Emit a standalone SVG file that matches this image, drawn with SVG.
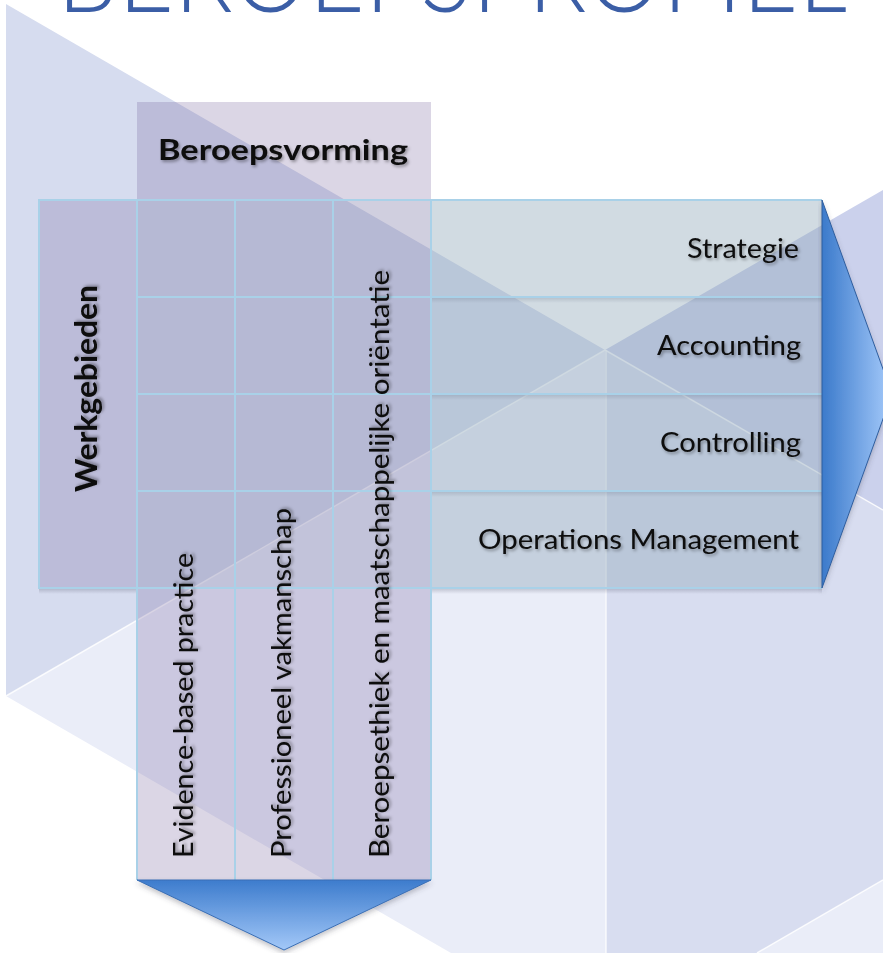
<svg xmlns="http://www.w3.org/2000/svg" width="883" height="953" viewBox="0 0 883 953">
<defs>
<linearGradient id="gR" x1="0" y1="0" x2="1" y2="0"><stop offset="0" stop-color="#3b7acb"/><stop offset="1" stop-color="#a6cbfb"/></linearGradient>
<linearGradient id="gD" x1="0" y1="0" x2="0" y2="1"><stop offset="0" stop-color="#3d7ccd"/><stop offset="1" stop-color="#a3c8f8"/></linearGradient>
<linearGradient id="gS" x1="0" y1="0" x2="0" y2="1"><stop offset="0" stop-color="#404058" stop-opacity="0.22"/><stop offset="1" stop-color="#404058" stop-opacity="0"/></linearGradient>
<filter id="ts" x="-10%" y="-40%" width="120%" height="180%"><feDropShadow dx="1.5" dy="2" stdDeviation="1.5" flood-color="#000" flood-opacity="0.35"/></filter>
<filter id="bs" x="-5%" y="-10%" width="110%" height="130%"><feDropShadow dx="0" dy="3" stdDeviation="2.5" flood-color="#404050" flood-opacity="0.3"/></filter>
<style>
.lbl{font-family:Lato,'Liberation Sans',sans-serif;font-size:27px;fill:#0a0a0a}
.hdr{font-family:Lato,'Liberation Sans',sans-serif;font-weight:700;fill:#0a0a0a}
.grid{stroke:#a9d1e8;stroke-width:2;fill:none}
.purple{fill:#73609a;fill-opacity:0.26}
.inner{fill:#91aab9;fill-opacity:0.15}
.row{fill:#91aab9;fill-opacity:0.42}
.sh{fill:url(#gS)}
.wl{stroke:#ffffff;stroke-width:1.5;stroke-opacity:0.8;fill:none}
</style>
</defs>
<g id="background">
<rect width="883" height="953" fill="#ffffff"/>
<polygon points="6,4 605,350 6,696" fill="#d6dcef"/>
<polygon points="6,696 605,350 606,953 451,953" fill="#eaedf8"/>
<polygon points="605,350 883,190 883,510" fill="#cbd1ec"/>
<polygon points="605,350 883,510 883,880 757,953 606,953" fill="#d8ddf0"/>
<polygon points="883,880 883,953 757,953" fill="#eaedf8"/>
<line class="wl" x1="6" y1="696" x2="605" y2="350"/>
<line class="wl" x1="606" y1="350" x2="606" y2="953"/>
<line class="wl" x1="605" y1="350" x2="883" y2="510"/>
<line class="wl" x1="883" y1="880" x2="757" y2="953"/>
</g>
<g id="title">
<text x="57" y="12" textLength="790" lengthAdjust="spacingAndGlyphs" style="font-family:Lato,'Liberation Sans',sans-serif;font-weight:300;font-size:110px;fill:#3b5ea6">BEROEPSPROFIEL</text>
</g>
<g id="werkgebieden">
<rect x="39" y="200" width="98" height="388" class="purple"/>
<rect x="39" y="589" width="98" height="5" class="sh"/>
<rect x="39" y="200" width="98" height="388" class="grid"/>
<text class="hdr" transform="translate(97,492) rotate(-90)" font-size="30" textLength="207" lengthAdjust="spacingAndGlyphs" filter="url(#ts)">Werkgebieden</text>
</g>
<g id="row-strategie">
<rect x="431" y="200" width="391" height="97" class="row"/>
<rect x="431" y="298" width="391" height="5" class="sh"/>
<path class="grid" d="M431,200H822M431,297H822"/>
<text class="lbl" x="799" y="258" text-anchor="end" textLength="112" lengthAdjust="spacingAndGlyphs" filter="url(#ts)">Strategie</text>
</g>
<g id="row-accounting">
<rect x="431" y="297" width="391" height="97" class="row"/>
<rect x="431" y="395" width="391" height="5" class="sh"/>
<path class="grid" d="M431,297H822M431,394H822"/>
<text class="lbl" x="801" y="355" text-anchor="end" textLength="144" lengthAdjust="spacingAndGlyphs" filter="url(#ts)">Accounting</text>
</g>
<g id="row-controlling">
<rect x="431" y="394" width="391" height="97" class="row"/>
<rect x="431" y="492" width="391" height="5" class="sh"/>
<path class="grid" d="M431,394H822M431,491H822"/>
<text class="lbl" x="801" y="452" text-anchor="end" textLength="141" lengthAdjust="spacingAndGlyphs" filter="url(#ts)">Controlling</text>
</g>
<g id="row-operations">
<rect x="431" y="491" width="391" height="97" class="row"/>
<rect x="431" y="589" width="391" height="5" class="sh"/>
<path class="grid" d="M431,491H822M431,588H822"/>
<text class="lbl" x="799" y="549" text-anchor="end" textLength="321" lengthAdjust="spacingAndGlyphs" filter="url(#ts)">Operations Management</text>
</g>
<g id="beroepsvorming">
<rect x="137" y="102" width="294" height="98" class="purple"/>
<text class="hdr" x="158" y="160" font-size="28" textLength="250" lengthAdjust="spacingAndGlyphs" filter="url(#ts)">Beroepsvorming</text>
</g>
<g id="col-evidence">
<rect x="137" y="200" width="98" height="680" class="purple"/>
<rect x="137" y="200" width="98" height="388" class="inner"/>
<path class="grid" d="M137,200V880M235,200V880M137,200H235M137,297H235M137,394H235M137,491H235M137,588H235"/>
<text class="lbl" transform="translate(193,858) rotate(-90)" textLength="305" lengthAdjust="spacingAndGlyphs" filter="url(#ts)">Evidence-based practice</text>
</g>
<g id="col-vakmanschap">
<rect x="235" y="200" width="98" height="680" class="purple"/>
<rect x="235" y="200" width="98" height="388" class="inner"/>
<path class="grid" d="M235,200V880M333,200V880M235,200H333M235,297H333M235,394H333M235,491H333M235,588H333"/>
<text class="lbl" transform="translate(291,858) rotate(-90)" textLength="350" lengthAdjust="spacingAndGlyphs" filter="url(#ts)">Professioneel vakmanschap</text>
</g>
<g id="col-beroepsethiek">
<rect x="333" y="200" width="98" height="680" class="purple"/>
<rect x="333" y="200" width="98" height="388" class="inner"/>
<path class="grid" d="M333,200V880M431,200V880M333,200H431M333,297H431M333,394H431M333,491H431M333,588H431"/>
<text class="lbl" transform="translate(389,858) rotate(-90)" textLength="588" lengthAdjust="spacingAndGlyphs" filter="url(#ts)">Beroepsethiek en maatschappelijke oriëntatie</text>
</g>
<g id="arrows">
<polygon points="822,200 892,394 822,588" fill="url(#gR)" stroke="#2f5e9e" stroke-width="1" filter="url(#bs)"/>
<polygon points="137,880 431,880 284,950" fill="url(#gD)" stroke="#3a6fb5" stroke-width="1" filter="url(#bs)"/>
</g>
</svg>
